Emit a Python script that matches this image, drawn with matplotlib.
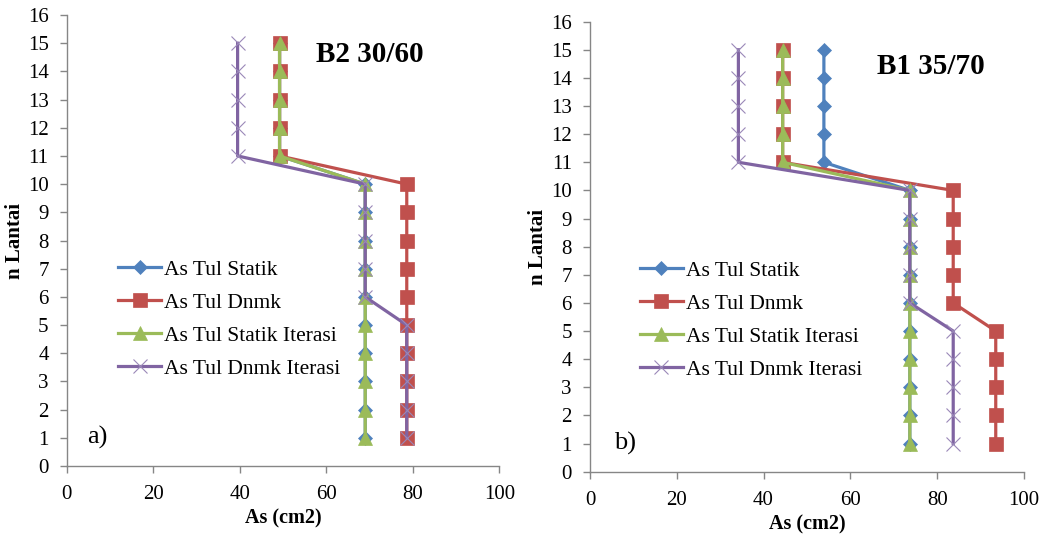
import matplotlib
matplotlib.use("Agg")
import matplotlib.pyplot as plt

plt.rcParams['font.family'] = ['Liberation Serif', 'DejaVu Serif']

# floor numbers (n Lantai)
floors = [1, 2, 3, 4, 5, 6, 7, 8, 9, 10, 11, 12, 13, 14, 15]

# a) beam B2 30/60, As in cm2 per floor
a_statik = [69.0, 69.0, 69.0, 69.0, 69.0, 69.0, 69.0, 69.0, 69.0, 69.0, 49.2, 49.2, 49.2, 49.2, 49.2]
a_dnmk = [78.6, 78.6, 78.6, 78.6, 78.6, 78.6, 78.6, 78.6, 78.6, 78.6, 49.2, 49.2, 49.2, 49.2, 49.2]
a_statik_it = [69.0, 69.0, 69.0, 69.0, 69.0, 69.0, 69.0, 69.0, 69.0, 69.0, 49.2, 49.2, 49.2, 49.2, 49.2]
a_dnmk_it = [78.6, 78.6, 78.6, 78.6, 78.6, 69.0, 69.0, 69.0, 69.0, 69.0, 39.5, 39.5, 39.5, 39.5, 39.5]

# b) beam B1 35/70
b_statik = [73.7, 73.7, 73.7, 73.7, 73.7, 73.7, 73.7, 73.7, 73.7, 73.7, 53.9, 53.9, 53.9, 53.9, 53.9]
b_dnmk = [93.5, 93.5, 93.5, 93.5, 93.5, 83.7, 83.7, 83.7, 83.7, 83.7, 44.4, 44.4, 44.4, 44.4, 44.4]
b_statik_it = [73.7, 73.7, 73.7, 73.7, 73.7, 73.7, 73.7, 73.7, 73.7, 73.7, 44.4, 44.4, 44.4, 44.4, 44.4]
b_dnmk_it = [83.7, 83.7, 83.7, 83.7, 83.7, 73.7, 73.7, 73.7, 73.7, 73.7, 34.2, 34.2, 34.2, 34.2, 34.2]

labels = ["As Tul Statik", "As Tul Dnmk", "As Tul Statik Iterasi", "As Tul Dnmk Iterasi"]
colors = ["#4F81BD", "#C0504D", "#9BBB59", "#8064A2"]
markers = ["D", "s", "^", "x"]
msizes = [6.8, 10.5, 9.5, 10]

axis_gray = "#868686"


def draw_panel(ax, series, title, title_xy, tag, tag_xy, leg_xy):
    for vals, lab, col, mk, ms in zip(series, labels, colors, markers, msizes):
        if mk == "x":
            ax.plot(vals, floors, color=col, linewidth=2.3, marker=mk, markersize=ms,
                    markeredgewidth=0.8, markeredgecolor="#9a88b8", label=lab)
        else:
            ax.plot(vals, floors, color=col, linewidth=2.3, marker=mk, markersize=ms,
                    markeredgewidth=0.5, markeredgecolor=col, label=lab)

    ax.set_xlim(0, 100)
    ax.set_ylim(0, 16)
    ax.set_xticks(range(0, 101, 20))
    ax.set_yticks(range(0, 17))
    ax.spines['top'].set_visible(False)
    ax.spines['right'].set_visible(False)
    for s in ('left', 'bottom'):
        ax.spines[s].set_color(axis_gray)
        ax.spines[s].set_linewidth(1.0)
    ax.tick_params(axis='both', colors=axis_gray, labelcolor='black', labelsize=15,
                   length=5, width=1.0, direction='out')
    ax.tick_params(axis='y', pad=8)
    ax.tick_params(axis='x', pad=9)
    ax.set_xlabel("As (cm2)", fontsize=14.5, fontweight='bold', labelpad=3)
    ax.set_ylabel("n Lantai", fontsize=15, fontweight='bold', labelpad=2)

    ax.text(title_xy[0], title_xy[1], title, fontsize=21, fontweight='bold',
            ha='center', va='center')
    ax.text(tag_xy[0], tag_xy[1], tag, fontsize=19, ha='left', va='center')

    ax.legend(loc='center left', bbox_to_anchor=leg_xy, frameon=False, fontsize=15.5,
              handlelength=2.0, handletextpad=0.15, labelspacing=0.6, borderpad=0,
              borderaxespad=0)


fig = plt.figure(figsize=(10.44, 5.36), dpi=100)
ax_a = fig.add_axes([0.0639, 0.1306, 0.4144, 0.8414])
ax_b = fig.add_axes([0.5651, 0.1200, 0.4157, 0.8396])

draw_panel(ax_a, [a_statik, a_dnmk, a_statik_it, a_dnmk_it], "B2 30/60", (70, 14.6),
           "a)", (4.7, 1.0), (0.119, 0.325))
draw_panel(ax_b, [b_statik, b_dnmk, b_statik_it, b_dnmk_it], "B1 35/70", (78.6, 14.4),
           "b)", (5.6, 1.0), (0.115, 0.336))

fig.savefig("out.png", dpi=100)
